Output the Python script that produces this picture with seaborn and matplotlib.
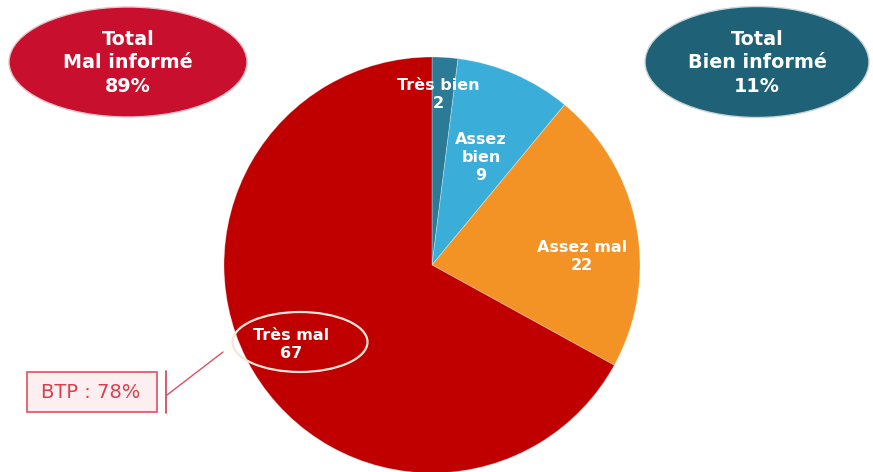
import matplotlib
matplotlib.use("Agg")
import matplotlib.pyplot as plt
import seaborn as sns
from matplotlib.patches import Ellipse, Rectangle

# Survey answers, clockwise from 12 o'clock
categories = ["Très bien", "Assez bien", "Assez mal", "Très mal"]
values = [2, 9, 22, 67]
colors = ["#2b7a96", "#3aaed8", "#f39325", "#c00000"]

total_labels = ["Total\nMal informé\n89%", "Total\nBien informé\n11%"]
btp_label = "BTP : 78%"

sns.set_theme(style="white")
plt.rcParams["font.family"] = ["DejaVu Sans"]

W, H = 873, 472
fig = plt.figure(figsize=(W / 100, H / 100), dpi=100)
ax = fig.add_axes([0, 0, 1, 1])


def Y(py):
    return H - py


cx, cy, r = 432, Y(265), 208
wedges, _ = ax.pie(values, colors=colors, startangle=90, counterclock=False,
                   center=(cx, cy), radius=r, frame=True,
                   wedgeprops=dict(edgecolor=(1, 1, 1, 0.35), linewidth=0.6))
ax.set_xlim(0, W)
ax.set_ylim(0, H)
ax.set_aspect("equal")
ax.axis("off")

# Slice labels
label_pos = [(438, 94), (481, 157), (582, 256), (291, 345)]
label_texts = ["Très bien\n2", "Assez\nbien\n9", "Assez mal\n22", "Très mal\n67"]
for (px, py), t in zip(label_pos, label_texts):
    ax.text(px, Y(py), t, ha="center", va="center", color="white",
            fontsize=11.5, fontweight="bold", linespacing=1.25)

# Highlight ring around the largest slice label
ax.add_patch(Ellipse((300, Y(342)), 135, 60, fill=False,
                     edgecolor="#f6e6d8", linewidth=1.6))

# Totals badges
ax.add_patch(Ellipse((128, Y(62)), 238, 110, facecolor="#c8102e",
                     edgecolor="#e8c0c8", linewidth=1.0))
ax.add_patch(Ellipse((757, Y(62)), 224, 111, facecolor="#1f6277",
                     edgecolor="#c8d4d8", linewidth=1.0))
ax.text(128, Y(63), total_labels[0], ha="center", va="center", color="white",
        fontsize=13.8, fontweight="bold", linespacing=1.3)
ax.text(757, Y(63), total_labels[1], ha="center", va="center", color="white",
        fontsize=13.8, fontweight="bold", linespacing=1.3)

# BTP callout
ax.add_patch(Rectangle((27, Y(412)), 130, 40, facecolor="#fdeef0",
                       edgecolor="#e0505e", linewidth=1.2))
ax.text(91, Y(393), btp_label, ha="center", va="center", color="#d8404e",
        fontsize=14)
ax.plot([166, 166], [Y(371), Y(413)], color="#d0404e", linewidth=1.2)
ax.plot([167, 223], [Y(395), Y(352)], color="#e0505e", linewidth=1.0)

fig.savefig("out.png", dpi=100)
